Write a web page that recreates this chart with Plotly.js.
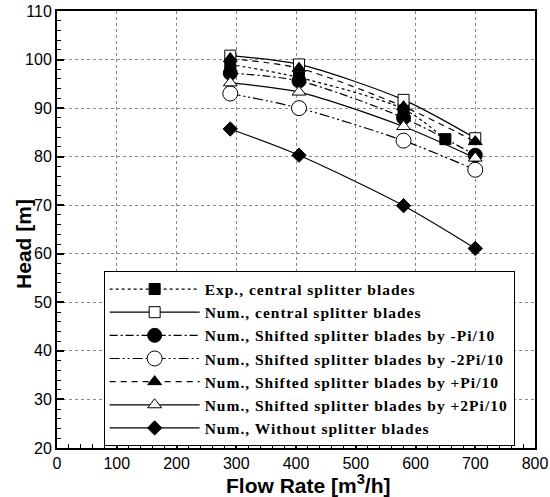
<!DOCTYPE html>
<html>
<head>
<meta charset="utf-8">
<script src="https://cdn.plot.ly/plotly-3.0.1.min.js"></script>
<style>
html,body{margin:0;padding:0;background:#fff;}
#chart{width:550px;height:497px;}
.legendtext{letter-spacing:1px;}
</style>
</head>
<body>
<div id="chart"></div>
<script>
// Flow rates [m3/h]
const flowNum = [290, 405, 580, 700];
const flowExp = [290, 405, 580, 650];
// Head [m]
const headExpCentral = [99.0, 96.3, 89.8, 83.6];
const headNumCentral = [100.8, 99.0, 91.7, 83.8];
const headMinusPi10 = [97.2, 95.6, 88.0, 80.3];
const headMinus2Pi10 = [93.0, 90.0, 83.3, 77.3];
const headPlusPi10 = [100.2, 98.2, 90.3, 83.1];
const headPlus2Pi10 = [95.2, 93.3, 86.2, 79.7];
const headWithout = [85.7, 80.3, 69.9, 61.1];
const seriesNames = [
  "Exp., central splitter blades",
  "Num., central splitter blades",
  "Num., Shifted splitter blades by -Pi/10",
  "Num., Shifted splitter blades by -2Pi/10",
  "Num., Shifted splitter blades by +Pi/10",
  "Num., Shifted splitter blades by +2Pi/10",
  "Num., Without splitter blades"
];
const xTicks = [0, 100, 200, 300, 400, 500, 600, 700, 800];
const yTicks = [20, 30, 40, 50, 60, 70, 80, 90, 100, 110];
const xTitle = 'Flow Rate [m<sup>3</sup>/h]';
const yTitle = 'Head [m]';

function tr(x, y, name, dash, symbol, fill, size) {
  return {
    x: x, y: y, name: name, type: 'scatter', mode: 'lines+markers',
    line: {color: '#000', width: 1.2, dash: dash, shape: 'spline', smoothing: 0.8},
    marker: {symbol: symbol, size: size, color: fill, line: {color: '#000', width: 1}}
  };
}
const data = [
  tr(flowExp, headExpCentral, seriesNames[0], 'dot', 'square', '#000', 11),
  tr(flowNum, headNumCentral, seriesNames[1], 'solid', 'square', '#fff', 11),
  tr(flowNum, headMinusPi10, seriesNames[2], '8px,3px,2px,3px', 'circle', '#000', 14),
  tr(flowNum, headMinus2Pi10, seriesNames[3], '10px,3px,2px,3px,2px,3px', 'circle', '#fff', 15),
  tr(flowNum, headPlusPi10, seriesNames[4], '6px,5px', 'triangle-up', '#000', 12),
  tr(flowNum, headPlus2Pi10, seriesNames[5], 'solid', 'triangle-up', '#fff', 12),
  tr(flowNum, headWithout, seriesNames[6], 'solid', 'diamond', '#000', 11)
];

const axisCommon = {
  showline: true, linecolor: '#000', linewidth: 2, mirror: true,
  ticks: 'inside', ticklen: 7, tickwidth: 2, tickcolor: '#000',
  showgrid: true, gridcolor: '#888', gridwidth: 1, griddash: 'dot',
  zeroline: false,
  tickfont: {family: 'Liberation Sans, Arial', size: 16, color: '#000'}
};
const titleFont = {family: 'Liberation Sans, Arial', size: 21, color: '#000', weight: 'bold'};
const layout = {
  width: 550, height: 497,
  margin: {l: 57, r: 15, t: 11, b: 48.5},
  paper_bgcolor: '#fff', plot_bgcolor: '#fff',
  showlegend: true,
  xaxis: Object.assign({}, axisCommon, {
    range: [0, 800], tickvals: xTicks,
    minor: {dtick: 20, ticks: 'inside', ticklen: 4, tickwidth: 1, tickcolor: '#000', showgrid: false}
  }),
  yaxis: Object.assign({}, axisCommon, {
    range: [20, 110], tickvals: yTicks,
    minor: {dtick: 2, ticks: 'inside', ticklen: 4, tickwidth: 1, tickcolor: '#000', showgrid: false}
  }),
  annotations: [
    {text: xTitle, xref: 'paper', yref: 'paper', x: 0.527, y: -0.083, xanchor: 'center', yanchor: 'middle', showarrow: false, font: titleFont},
    {text: yTitle, xref: 'paper', yref: 'paper', x: -0.069, y: 0.467, xanchor: 'center', yanchor: 'middle', textangle: -90, showarrow: false, font: titleFont}
  ],
  legend: {
    x: 0.0976, y: 0.404, xanchor: 'left', yanchor: 'top',
    bgcolor: '#fff', bordercolor: '#000', borderwidth: 1,
    font: {family: 'Liberation Serif, Times New Roman', size: 15.5, color: '#000', weight: 'bold'},
    itemwidth: 90, tracegroupgap: 0
  }
};
Plotly.newPlot('chart', data, layout, {displayModeBar: false, staticPlot: true});
</script>
</body>
</html>
